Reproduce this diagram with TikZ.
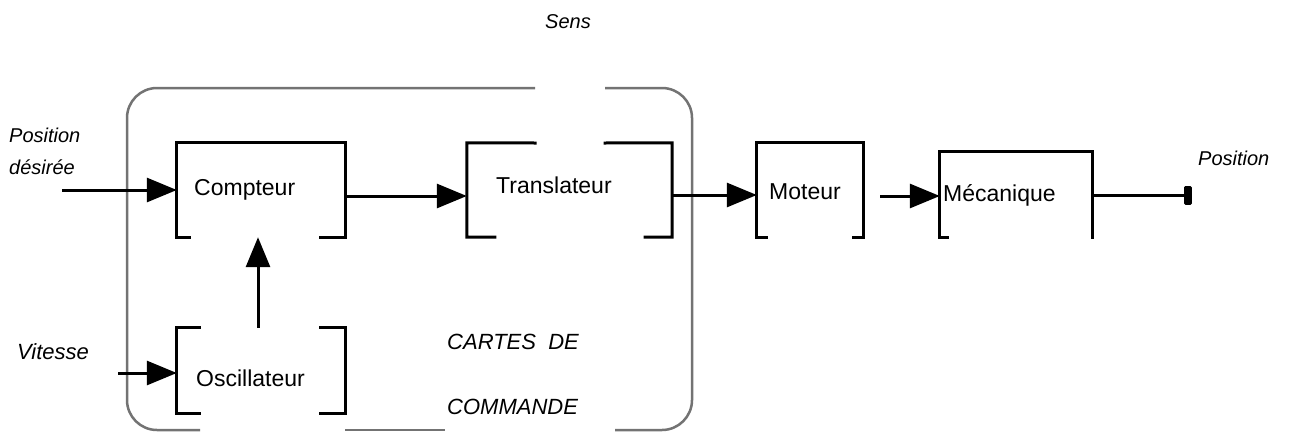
\documentclass[tikz,border=0pt]{standalone}
\usepackage{fontspec}
\setmainfont{Liberation Sans}
\usetikzlibrary{arrows.meta}
\begin{document}
\begin{tikzpicture}[x=1pt,y=-1pt,
  blk/.style={draw=none,inner sep=0pt},
  txt/.style={inner sep=0pt,anchor=west,font=\fontsize{23}{26}\selectfont},
  brk/.style={line width=3pt,line cap=rect},
  arr/.style={line width=3pt,-{Triangle[length=30pt,width=24pt]}},
  lbl/.style={inner sep=0pt,font=\fontsize{20}{32}\selectfont\itshape},
  lblb/.style={inner sep=0pt,font=\fontsize{22}{32}\selectfont\itshape},
  frame/.style={draw=black!55,line width=2.5pt,rounded corners=30pt},
  framebot/.style={draw=black!55,line width=1.2pt}]
\useasboundingbox (0,0) rectangle (1297,434);
% blocks (invisible nodes carrying the outlines)
\node[blk,minimum width=168pt,minimum height=94pt] (cpt) at (261,190) {};
\node[blk,minimum width=205pt,minimum height=94pt] (tr) at (569.5,190) {};
\node[blk,minimum width=106pt,minimum height=94pt] (mot) at (810,190) {};
\node[blk,minimum width=152pt,minimum height=85pt] (mec) at (1016,194.5) {};
\node[blk,minimum width=168pt,minimum height=85pt] (osc) at (261,370.5) {};
% block texts
\node[txt] (tcpt) at (194,190) {Compteur};
\node[txt] (ttr) at (496,185) {Translateur};
\node[txt] (tmot) at (769,192) {Moteur};
\node[txt] (tmec) at (943,195) {Mécanique};
\node[txt] (tosc) at (196,378) {Oscillateur};
% bracket outlines
\draw[brk] ([xshift=13pt]cpt.south west) -- (cpt.south west) -- (cpt.north west) -- (cpt.north east) -- (cpt.south east) -- ([xshift=-25pt]cpt.south east);
\draw[brk] (535,143) -- (tr.north west) -- (tr.south west) -- ([xshift=28pt]tr.south west);
\draw[brk] (605,143) -- (tr.north east) -- (tr.south east) -- ([xshift=-27pt]tr.south east);
\draw[brk] ([xshift=10pt]mot.south west) -- (mot.south west) -- (mot.north west) -- (mot.north east) -- (mot.south east) -- ([xshift=-10pt]mot.south east);
\draw[brk] ([xshift=8pt]mec.south west) -- (mec.south west) -- (mec.north west) -- (mec.north east) -- (mec.south east);
\draw[brk] ([xshift=23pt]osc.north west) -- (osc.north west) -- (osc.south west) -- ([xshift=23pt]osc.south west);
\draw[brk] ([xshift=-25pt]osc.north east) -- (osc.north east) -- (osc.south east) -- ([xshift=-25pt]osc.south east);
% outer frame (cartes de commande)
\draw[frame] (535,88) -- (127,88) -- (127,430) -- (200,430);
\draw[frame] (615,430) -- (692,430) -- (692,88) -- (605,88);
\draw[framebot] (345,430) -- (445,430);
% labels
\node[lbl] (sens) at (568,22) {Sens};
\node[lbl,anchor=west,align=left] (pd) at (9,151) {Position\\désirée};
\node[lblb,anchor=west] (vit) at (17,352) {Vitesse};
\node[lbl,anchor=west] (pos) at (1198,158) {Position};
\node[lblb,anchor=west] (cdc1) at (447,342) {CARTES\ \ DE};
\node[lblb,anchor=west] (cdc2) at (447,407) {COMMANDE};
% connectors
\coordinate (inpos) at (62,190);
\coordinate (invit) at (118,373);
\coordinate (out) at (1192,195);
\draw[arr] (inpos) -- (cpt.west);
\draw[arr] (invit) -- (osc.west |- invit);
\draw[arr] ([xshift=-3pt]osc.north) -- ([xshift=-3pt]cpt.south);
\draw[arr] ([yshift=-6pt]cpt.east) -- ([yshift=-6pt]tr.west);
\draw[arr] ([yshift=-5pt]tr.east) -- ([yshift=-5pt]mot.west);
\draw[arr] ([xshift=17pt,yshift=-6pt]mot.east) -- ([yshift=-6pt]mot.east -| mec.west);
\draw[line width=3pt,-{Rectangle[length=8pt,width=19pt,round]}] (mec.east |- out) -- (out);
\end{tikzpicture}
\end{document}
